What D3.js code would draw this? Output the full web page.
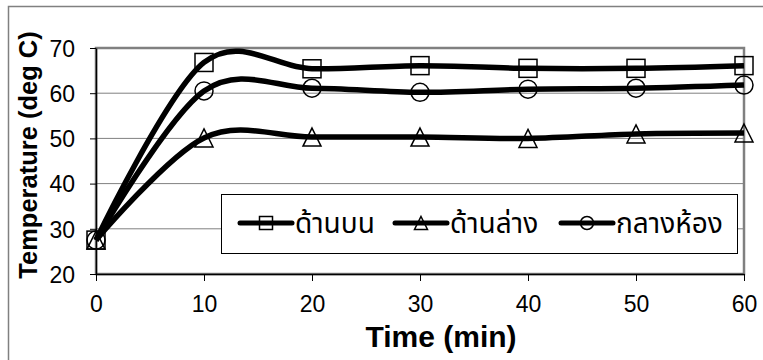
<!DOCTYPE html>
<html lang="th">
  <head>
    <meta charset="utf-8">
    <title>Temperature vs Time</title>
    <script src="https://cdnjs.cloudflare.com/ajax/libs/d3/7.8.0/d3.min.js"></script>
    <style>
      body { margin: 0; background: #fff; }
      svg text { font-family: Arial, "Liberation Sans", sans-serif; fill: #000; }
      .legend-text { font-family: Tahoma, "Noto Sans Thai", "Loma", "Garuda", "Norasi", "DejaVu Sans", sans-serif; }
    </style>
  </head>
  <body>
    <div id="chartContainer"></div>

    <script type="text/javascript">
      // Data
      var times = [0, 10, 20, 30, 40, 50, 60];
      var seriesNames = ["ด้านบน", "ด้านล่าง", "กลางห้อง"];
      var topValues = [27.5, 66.8, 65.4, 66.1, 65.5, 65.5, 66.1];
      var bottomValues = [27.5, 50.1, 50.3, 50.3, 50.0, 51.0, 51.2];
      var middleValues = [27.5, 60.5, 61.1, 60.2, 60.9, 61.1, 61.8];
      var xTicks = [0, 10, 20, 30, 40, 50, 60];
      var yTicks = [20, 30, 40, 50, 60, 70];
      var markers = ["square", "triangle", "circle"];

      var series = [topValues, bottomValues, middleValues].map(function(vals, i) {
        return {
          name: seriesNames[i],
          marker: markers[i],
          points: times.map(function(t, j) { return { t: t, v: vals[j] }; })
        };
      });

      var W = 763, H = 360;
      var plot = { left: 96, right: 744, top: 48, bottom: 274 };

      var svg = d3.select("#chartContainer")
                  .append("svg")
                  .attr("width", W)
                  .attr("height", H);

      // chart area border (runs off the right/bottom edge like the original)
      svg.append("rect")
         .attr("x", 8.5).attr("y", 6.5)
         .attr("width", W + 20).attr("height", H + 20)
         .attr("fill", "#fff")
         .attr("stroke", "#808080")
         .attr("stroke-width", 1.5);

      var x = d3.scaleLinear().domain([0, 60]).range([plot.left, plot.right]);
      var y = d3.scaleLinear().domain([20, 70]).range([plot.bottom, plot.top]);

      // gridlines
      svg.append("g")
         .selectAll("line")
         .data(yTicks.slice(1, -1))
         .enter().append("line")
         .attr("x1", plot.left).attr("x2", plot.right)
         .attr("y1", function(d) { return y(d); })
         .attr("y2", function(d) { return y(d); })
         .attr("stroke", "#808080")
         .attr("stroke-width", 1);

      // plot area border
      svg.append("rect")
         .attr("x", plot.left).attr("y", plot.top)
         .attr("width", plot.right - plot.left)
         .attr("height", plot.bottom - plot.top)
         .attr("fill", "none")
         .attr("stroke", "#808080")
         .attr("stroke-width", 2.5);

      // axes
      var yAxis = svg.append("g")
         .attr("transform", "translate(" + plot.left + ",0)")
         .call(d3.axisLeft(y).tickValues(yTicks).tickSize(6).tickPadding(15).tickSizeOuter(0));
      var xAxis = svg.append("g")
         .attr("transform", "translate(0," + plot.bottom + ")")
         .call(d3.axisBottom(x).tickValues(xTicks).tickSize(7).tickPadding(15).tickSizeOuter(0));

      [yAxis, xAxis].forEach(function(a) {
        a.select(".domain").attr("stroke", "#000").attr("stroke-width", 1.5);
        a.selectAll(".tick line").attr("stroke", "#000").attr("stroke-width", 1);
        a.selectAll(".tick text").style("font-size", "23px");
      });
      yAxis.selectAll(".tick text").attr("dy", "0.36em");

      // axis titles
      svg.append("text")
         .attr("x", 441).attr("y", 347)
         .attr("text-anchor", "middle")
         .style("font-size", "30px")
         .style("font-weight", "bold")
         .text("Time (min)");

      svg.append("text")
         .attr("transform", "translate(37,155) rotate(-90)")
         .attr("text-anchor", "middle")
         .style("font-size", "25.5px")
         .style("font-weight", "bold")
         .text("Temperature (deg C)");

      // smoothed lines
      var line = d3.line()
                   .x(function(d) { return x(d.t); })
                   .y(function(d) { return y(d.v); })
                   .curve(d3.curveCardinal.tension(0));

      svg.append("g")
         .selectAll("path")
         .data(series)
         .enter().append("path")
         .attr("d", function(d) { return line(d.points); })
         .attr("fill", "none")
         .attr("stroke", "#000")
         .attr("stroke-width", 5.5)
         .attr("stroke-linejoin", "round");

      function drawMarker(g, kind, cx, cy, s) {
        var m;
        if (kind === "square") {
          m = g.append("rect").attr("x", cx - s).attr("y", cy - s)
               .attr("width", 2 * s).attr("height", 2 * s);
        } else if (kind === "circle") {
          m = g.append("circle").attr("cx", cx).attr("cy", cy).attr("r", s);
        } else {
          m = g.append("path").attr("d",
                "M" + cx + "," + (cy - s) + "L" + (cx + s) + "," + (cy + s) + "L" + (cx - s) + "," + (cy + s) + "Z");
        }
        m.attr("fill", "none").attr("stroke", "#000").attr("stroke-width", 1.5);
      }

      var markerLayer = svg.append("g");
      series.forEach(function(s) {
        s.points.forEach(function(p) {
          drawMarker(markerLayer, s.marker, x(p.t), y(p.v), 9);
        });
      });

      // legend
      var legend = svg.append("g");
      legend.append("rect")
            .attr("x", 221.5).attr("y", 194.5)
            .attr("width", 516).attr("height", 59)
            .attr("fill", "#fff")
            .attr("stroke", "#000")
            .attr("stroke-width", 1);

      var legendX = [240, 395, 561];
      var legendY = 223;
      series.forEach(function(s, i) {
        var lx = legendX[i];
        legend.append("line")
              .attr("x1", lx).attr("x2", lx + 52)
              .attr("y1", legendY).attr("y2", legendY)
              .attr("stroke", "#000").attr("stroke-width", 5)
              .attr("stroke-linecap", "round");
        drawMarker(legend, s.marker, lx + 26, legendY, 6.5);
        legend.append("text")
              .attr("class", "legend-text")
              .attr("x", lx + 55).attr("y", 233)
              .style("font-size", "28px")
              .text(s.name);
      });
    </script>
  </body>
</html>
